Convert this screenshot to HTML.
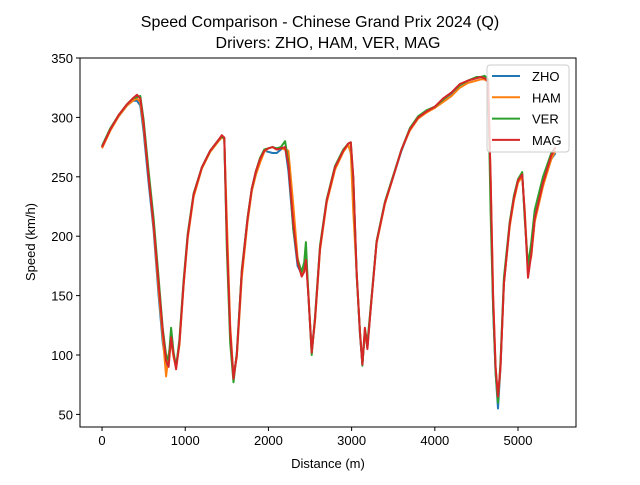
<!DOCTYPE html>
<html><head><meta charset="utf-8"><style>
body{margin:0;background:#fff;}
svg{font-family:"Liberation Sans","DejaVu Sans",sans-serif;}
</style></head><body>
<svg id="chart" width="640" height="480" viewBox="0 0 640 480">
<rect width="640" height="480" fill="#fff"/>
<text x="320" y="27" text-anchor="middle" font-size="16">Speed Comparison - Chinese Grand Prix 2024 (Q)</text>
<text x="328" y="48" text-anchor="middle" font-size="16">Drivers: ZHO, HAM, VER, MAG</text>
<g id="plot"></g>
<text x="328" y="468" text-anchor="middle" font-size="13">Distance (m)</text>
<text transform="translate(35,242) rotate(-90)" text-anchor="middle" font-size="13">Speed (km/h)</text>
</svg>
<script>
const distance=[0,100,200,300,370,420,460,500,560,620,680,730,770,800,830,860,890,930,980,1030,1100,1200,1300,1400,1440,1470,1500,1540,1580,1620,1680,1750,1800,1850,1900,1950,2000,2050,2100,2150,2200,2240,2300,2350,2400,2430,2450,2480,2520,2560,2620,2700,2800,2900,2960,2990,3020,3060,3100,3130,3160,3190,3230,3300,3400,3500,3600,3700,3800,3900,4000,4100,4200,4300,4400,4500,4550,4600,4640,4670,4700,4730,4760,4790,4830,4900,4950,5000,5050,5080,5120,5160,5200,5300,5400,5450];
const speedZHO=[275,290,301,310,314,314,310,288,245,205,150,110,92,100,110,100,90,110,160,200,235,258,272,281,284,283,200,120,82,100,170,215,240,255,265,272,271,270,270,273,275,255,205,175,168,172,185,150,104,130,190,230,258,272,277,270,248,170,118,92,120,106,140,195,228,250,272,290,300,305,308,315,320,327,331,333,334,333,330,240,140,85,55,90,160,210,232,247,252,218,170,185,213,243,265,270];
const speedHAM=[274,289,301,310,314,316,313,292,250,208,155,115,82,100,112,98,90,108,158,198,233,257,271,280,283,282,215,125,82,98,165,212,238,252,262,271,274,275,273,274,273,272,225,182,168,172,182,152,102,128,188,228,256,271,277,270,220,170,120,93,118,108,140,194,227,250,273,289,299,304,308,313,318,325,329,331,332,332,330,250,150,90,62,90,160,208,230,245,250,222,172,183,212,242,265,272];
const speedVER=[276,291,302,311,316,317,318,298,255,215,165,122,100,95,123,102,90,113,163,202,236,258,272,281,284,282,190,110,77,102,172,216,240,255,266,273,274,275,274,275,280,262,205,180,170,178,195,150,100,132,192,231,259,273,278,279,248,168,120,91,122,110,142,196,229,251,273,291,301,306,309,315,321,327,331,334,334,335,332,220,140,85,60,95,165,212,234,248,254,215,175,195,222,250,270,275];
const speedMAG=[275,290,302,311,316,319,316,295,250,210,160,120,95,90,115,100,88,110,160,200,235,258,272,281,285,283,200,120,80,100,170,215,240,255,265,272,274,275,273,274,275,260,210,178,166,170,180,150,102,130,190,230,258,272,278,279,250,170,120,92,123,105,140,195,228,250,273,290,300,305,309,316,321,328,331,333,334,333,330,250,150,90,65,90,160,210,232,247,252,220,165,185,215,245,268,275];
const xTicks=[0,1000,2000,3000,4000,5000];
const yTicks=[50,100,150,200,250,300,350];
const seriesNames=["ZHO","HAM","VER","MAG"];
const colors=["#1f77b4","#ff7f0e","#2ca02c","#d62728"];

const L=80,R=576,T=58,B=427;
const xMin=-265,xMax=5697,yMin=39.4,yMax=350;
const xs=v=>L+(v-xMin)/(xMax-xMin)*(R-L);
const ys=v=>B-(v-yMin)/(yMax-yMin)*(B-T);
const NS="http://www.w3.org/2000/svg";
const g=document.getElementById('plot');
function mk(t,a){const e=document.createElementNS(NS,t);for(const k in a)e.setAttribute(k,a[k]);return e;}

const all=[speedZHO,speedHAM,speedVER,speedMAG];
all.forEach((s,i)=>{
  const d=s.map((v,j)=>(j?'L':'M')+xs(distance[j]).toFixed(1)+','+ys(v).toFixed(1)).join('');
  const p=mk('path',{d:d,fill:'none',stroke:colors[i],'stroke-width':2,'stroke-linejoin':'round'});
  
  
  g.appendChild(p);
});
const frame=mk('rect',{x:L,y:T,width:R-L,height:B-T,fill:'none',stroke:'#000','stroke-width':1});


g.appendChild(frame);
xTicks.forEach(v=>{
  const x=xs(v);
  const tk=mk('line',{x1:x,x2:x,y1:B,y2:B+4,stroke:'#000'});
  
  
  g.appendChild(tk);
  const t=mk('text',{x:x,y:B+18,'text-anchor':'middle','font-size':13});
  t.textContent=v;
  
  
  g.appendChild(t);
});
yTicks.forEach(v=>{
  const y=ys(v);
  const tk=mk('line',{x1:L-4,x2:L,y1:y,y2:y,stroke:'#000'});
  
  
  g.appendChild(tk);
  const t=mk('text',{x:L-7,y:y+5,'text-anchor':'end','font-size':13});
  t.textContent=v;
  
  
  g.appendChild(t);
});
const lg=mk('g',{});


lg.appendChild(mk('rect',{x:487,y:65,width:82,height:87,rx:3,fill:'#fff','fill-opacity':0.8,stroke:'#ccc'}));
seriesNames.forEach((n,i)=>{
  const y=76+i*21.3;
  const ln=mk('line',{x1:492,x2:520,y1:y,y2:y,stroke:colors[i],'stroke-width':2});
  
  
  lg.appendChild(ln);
  const t=mk('text',{x:532,y:y+5,'font-size':13});
  t.textContent=n;
  
  
  lg.appendChild(t);
});
g.appendChild(lg);
</script>
</body></html>
